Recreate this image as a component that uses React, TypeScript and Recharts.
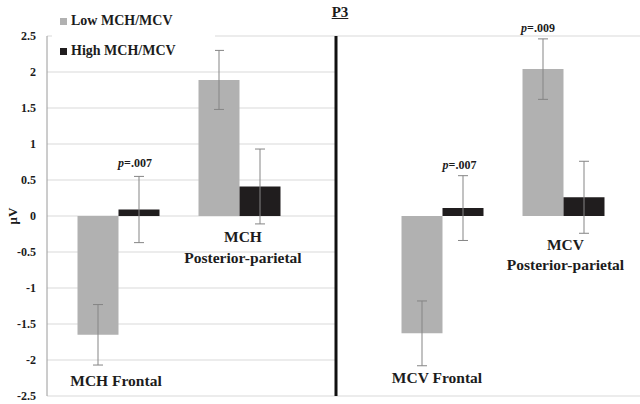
import React from 'react';
import { BarChart, Bar, XAxis, YAxis, CartesianGrid, ErrorBar, ReferenceDot, Label } from 'recharts';

const categories = ['MCH Frontal', 'MCH Posterior-parietal', 'MCV Frontal', 'MCV Posterior-parietal'];
const lowValues = [-1.65, 1.89, -1.63, 2.04];
const lowErrors = [0.42, 0.41, 0.45, 0.42];
const highValues = [0.09, 0.41, 0.11, 0.26];
const highErrors = [0.46, 0.52, 0.45, 0.5];
const yTicks = [-2.5, -2, -1.5, -1, -0.5, 0, 0.5, 1, 1.5, 2, 2.5];
const seriesNames = ['Low MCH/MCV', 'High MCH/MCV'];
const pLabels = ['.007', '.007', '.009'];

const FONT = "'Liberation Serif', 'Times New Roman', serif";
const LOW_COLOR = '#b1b1b1';
const HIGH_COLOR = '#201d1e';
const TEXT_COLOR = '#1c1c1c';

const rows = categories.map((c, i) => ({
  name: c,
  low: lowValues[i],
  lowErr: lowErrors[i],
  high: highValues[i],
  highErr: highErrors[i],
}));
const leftData = rows.slice(0, 2);
const rightData = rows.slice(2, 4);

const textShape = (text: string, dx: number, size = 15.5) => (props: any) => (
  <text
    x={props.cx + dx}
    y={props.cy}
    textAnchor="middle"
    dominantBaseline="central"
    style={{ fontFamily: FONT, fontWeight: 'bold', fontSize: size }}
    fill={TEXT_COLOR}
  >
    {text}
  </text>
);

const pShape = (value: string, dx: number) => (props: any) => (
  <text
    x={props.cx + dx}
    y={props.cy}
    textAnchor="middle"
    dominantBaseline="central"
    style={{ fontFamily: FONT, fontWeight: 'bold', fontSize: 12 }}
    fill={TEXT_COLOR}
  >
    <tspan fontStyle="italic">p</tspan>
    {'=' + value}
  </text>
);

const tickStyle = { fontSize: 12, fontWeight: 'bold', fill: TEXT_COLOR, fontFamily: FONT } as any;

const bars = () => [
  <Bar key="low" dataKey="low" fill={LOW_COLOR} isAnimationActive={false}>
    <ErrorBar dataKey="lowErr" width={5} stroke="#858585" strokeWidth={1} direction="y" />
  </Bar>,
  <Bar key="high" dataKey="high" fill={HIGH_COLOR} isAnimationActive={false}>
    <ErrorBar dataKey="highErr" width={5} stroke="#858585" strokeWidth={1} direction="y" />
  </Bar>,
];

export default function App() {
  return (
    <div
      style={{
        position: 'absolute',
        left: 0,
        top: 0,
        width: 640,
        height: 404,
        background: '#fff',
        fontFamily: FONT,
        overflow: 'hidden',
      }}
    >
      <div style={{ position: 'absolute', left: 0, top: 0 }}>
        <BarChart
          width={336}
          height={404}
          data={leftData}
          margin={{ top: 36, right: 0, bottom: 8, left: 0 }}
          barGap={0}
          barCategoryGap={20}
        >
          <CartesianGrid vertical={false} stroke="#d9d9d9" />
          <XAxis dataKey="name" hide padding={{ left: 10.5, right: 36.5 }} />
          <YAxis
            domain={[-2.5, 2.5]}
            ticks={yTicks}
            allowDataOverflow
            width={47}
            tickLine={false}
            tickSize={6}
            tickMargin={5}
            axisLine={{ stroke: '#9a9a9a' }}
            tick={tickStyle}
          >
            <Label
              content={(p: any) => {
                const vb = p.viewBox || { x: 0, y: 36, height: 360 };
                const cx = 12;
                const cy = vb.y + vb.height / 2;
                return (
                  <text
                    x={cx}
                    y={cy}
                    transform={`rotate(-90, ${cx}, ${cy})`}
                    textAnchor="middle"
                    dominantBaseline="central"
                    style={{ fontFamily: FONT, fontWeight: 'bold', fontSize: 13 }}
                    fill={TEXT_COLOR}
                  >
                    μV
                  </text>
                );
              }}
            />
          </YAxis>
          {bars()}
          <ReferenceDot x={categories[0]} y={-2.29} r={0} ifOverflow="visible" shape={textShape('MCH Frontal', -2)} />
          <ReferenceDot x={categories[1]} y={-0.29} r={0} ifOverflow="visible" shape={textShape('MCH', 4)} />
          <ReferenceDot x={categories[1]} y={-0.57} r={0} ifOverflow="visible" shape={textShape('Posterior-parietal', 4)} />
          <ReferenceDot x={categories[0]} y={0.74} r={0} ifOverflow="visible" shape={pShape(pLabels[0], 17)} />
        </BarChart>
      </div>
      <div style={{ position: 'absolute', left: 326, top: 0 }}>
        <BarChart
          width={314}
          height={404}
          data={rightData}
          margin={{ top: 36, right: 0, bottom: 8, left: 9 }}
          barGap={0}
          barCategoryGap={20}
        >
          <CartesianGrid vertical={false} stroke="#d9d9d9" />
          <XAxis dataKey="name" hide padding={{ left: 45.5, right: 16.5 }} />
          <YAxis
            domain={[-2.5, 2.5]}
            ticks={yTicks}
            allowDataOverflow
            width={1}
            tick={false}
            tickLine={false}
            axisLine={{ stroke: '#111', strokeWidth: 3 }}
          />
          {bars()}
          <ReferenceDot x={categories[2]} y={-2.24} r={0} ifOverflow="visible" shape={textShape('MCV Frontal', -5)} />
          <ReferenceDot x={categories[3]} y={-0.4} r={0} ifOverflow="visible" shape={textShape('MCV', 2.5)} />
          <ReferenceDot x={categories[3]} y={-0.68} r={0} ifOverflow="visible" shape={textShape('Posterior-parietal', 2.5)} />
          <ReferenceDot x={categories[2]} y={0.71} r={0} ifOverflow="visible" shape={pShape(pLabels[1], 17.5)} />
          <ReferenceDot x={categories[3]} y={2.61} r={0} ifOverflow="visible" shape={pShape(pLabels[2], -25)} />
        </BarChart>
      </div>
      <div
        style={{
          position: 'absolute',
          left: 310,
          top: 3,
          width: 60,
          textAlign: 'center',
          fontSize: 15,
          fontWeight: 'bold',
          textDecoration: 'underline',
          color: TEXT_COLOR,
          lineHeight: '18px',
        }}
      >
        P3
      </div>
      <div
        style={{
          position: 'absolute',
          left: 52,
          top: 8,
          width: 163,
          height: 56,
          background: '#fff',
        }}
      >
        {seriesNames.map((n, i) => (
          <div
            key={n}
            style={{
              position: 'absolute',
              left: 8,
              top: 5 + i * 30,
              display: 'flex',
              alignItems: 'center',
              fontSize: 14,
              fontWeight: 'bold',
              color: TEXT_COLOR,
              lineHeight: '16px',
              whiteSpace: 'nowrap',
            }}
          >
            <span
              style={{
                display: 'inline-block',
                width: 7,
                height: 7,
                background: i === 0 ? LOW_COLOR : HIGH_COLOR,
                marginRight: 4,
              }}
            />
            {n}
          </div>
        ))}
      </div>
    </div>
  );
}
